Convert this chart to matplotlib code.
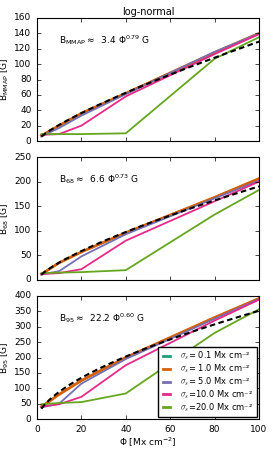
import matplotlib
matplotlib.use("Agg")
import matplotlib.pyplot as plt
import numpy as np

phi = [2, 10, 20, 40, 80, 100]
sigmas = ["0.1", "1.0", "5.0", "10.0", "20.0"]
colors = ["#1b9e77", "#d95f02", "#7570b3", "#e7298a", "#66a61e"]

# B_MMAP
b_mmap = [
    [7, 20, 36, 62, 115, 140],
    [7, 20, 36, 62, 115, 140],
    [6, 17, 33, 61, 116, 140],
    [8, 9, 20, 58, 113, 139],
    [9, 9, 9, 10, 107, 135],
]
# B_68
b_68 = [
    [12, 35, 57, 96, 168, 206],
    [12, 35, 57, 96, 168, 206],
    [11, 18, 48, 93, 166, 202],
    [12, 14, 22, 80, 160, 200],
    [14, 15, 16, 20, 133, 183],
]
# B_95
b_95 = [
    [40, 80, 125, 200, 330, 392],
    [40, 80, 125, 200, 330, 392],
    [38, 50, 115, 195, 326, 390],
    [40, 48, 72, 175, 320, 388],
    [48, 52, 55, 83, 280, 357],
]

fits = [(3.4, 0.79), (6.6, 0.73), (22.2, 0.60)]
names = ["MMAP", "68", "95"]
ylims = [(0, 160), (0, 250), (0, 400)]
yticks = [np.arange(0, 161, 20), np.arange(0, 251, 50), np.arange(0, 401, 50)]
panels = [b_mmap, b_68, b_95]


def main() -> None:
    plt.style.use("classic")
    plt.rcParams["font.size"] = 6.5
    plt.rcParams["mathtext.default"] = "regular"

    fig = plt.figure(figsize=(2.74, 4.53), dpi=100)
    fig.patch.set_facecolor("white")
    left, width = 37 / 274, 222 / 274
    tops = [18, 157, 296]
    h = 123

    xfit = np.linspace(2, 100, 200)
    for i in range(3):
        ax = fig.add_axes([left, 1 - (tops[i] + h) / 453, width, h / 453])
        for j, vals in enumerate(panels[i]):
            lw = 2.0 if j == 1 else 1.3
            ax.plot(phi, vals, color=colors[j], lw=lw,
                    label=r"$\mathit{\sigma_s}$" + ("= " if j < 3 else "=") + sigmas[j] + " Mx cm\u207b\u00b2")
        a, b = fits[i]
        ax.plot(xfit, a * xfit ** b, "k--", lw=1.5, dashes=(4, 2.5))
        ax.set_xlim(0, 100)
        ax.set_ylim(*ylims[i])
        ax.set_yticks(yticks[i])
        ax.set_xticks(np.arange(0, 101, 20))
        ax.tick_params(labelsize=6.5, length=3, width=0.5)
        for s in ax.spines.values():
            s.set_linewidth(0.8)
        ax.set_ylabel(r"B$_{%s}$ [G]" % names[i], fontsize=6.5, labelpad=2)
        ax.text(0.1, 0.82, r"B$_{%s}$$\approx$  %.1f $\Phi^{%.2f}$ G" % (names[i], a, b),
                transform=ax.transAxes, fontsize=6.5, va="center")
        if i < 2:
            ax.set_xticklabels([])
        else:
            ax.set_xlabel(r"$\Phi$ [Mx cm$^{-2}$]", fontsize=6.5, labelpad=2)
            leg = ax.legend(loc="lower right", fontsize=6.0, frameon=True, fancybox=False,
                            handlelength=1.5, borderpad=0.35, labelspacing=0.05,
                            handletextpad=0.9, borderaxespad=0.3)
            for ln in leg.get_lines():
                ln.set_linewidth(2.0)
        if i == 0:
            ax.set_title("log-normal", fontsize=7, pad=2)

    fig.savefig("out.png", dpi=100, facecolor="white")


if __name__ == "__main__":
    main()
